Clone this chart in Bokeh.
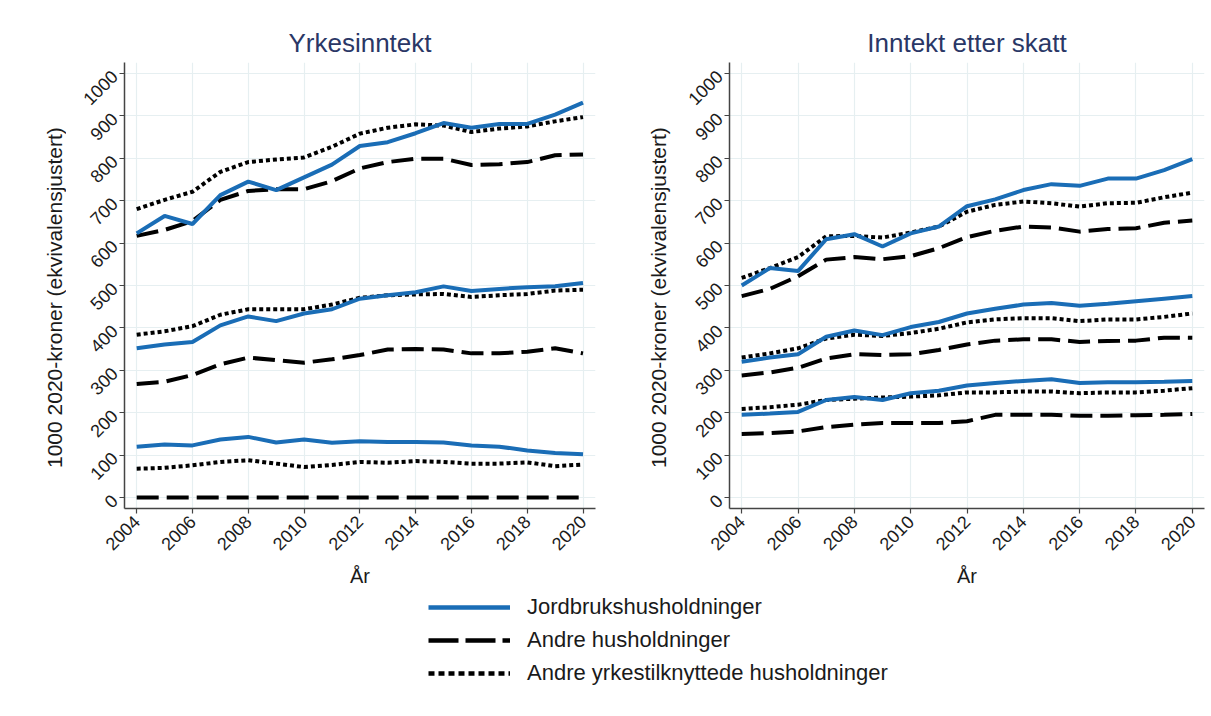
from math import pi
from bokeh.plotting import figure
from bokeh.layouts import column, row
from bokeh.models import Range1d, FixedTicker, Legend, LegendItem, Label
from bokeh.embed import file_html
from bokeh.resources import INLINE

years = list(range(2004, 2021))

# Yrkesinntekt (left panel)
yrk_jord_hi = [623, 664, 645, 713, 745, 725, 755, 785, 829, 838, 859, 883, 872, 881, 881, 903, 931]
yrk_andre_hi = [617, 631, 652, 702, 723, 727, 727, 746, 776, 791, 799, 799, 784, 786, 791, 807, 809]
yrk_yrke_hi = [680, 702, 721, 768, 791, 797, 802, 827, 858, 872, 880, 877, 862, 870, 875, 887, 897]
yrk_jord_mid = [352, 361, 367, 406, 427, 416, 434, 444, 469, 477, 484, 498, 487, 492, 496, 498, 506]
yrk_andre_mid = [268, 273, 289, 314, 330, 324, 318, 326, 336, 349, 350, 349, 340, 340, 344, 352, 340]
yrk_yrke_mid = [384, 392, 404, 431, 444, 444, 444, 455, 471, 477, 479, 480, 473, 477, 480, 488, 490]
yrk_jord_lo = [120, 125, 123, 137, 143, 130, 137, 129, 133, 131, 131, 130, 123, 120, 111, 105, 102]
yrk_andre_lo = [0, 0, 0, 0, 0, 0, 0, 0, 0, 0, 0, 0, 0, 0, 0, 0, 0]
yrk_yrke_lo = [68, 70, 76, 84, 88, 80, 72, 77, 84, 82, 86, 84, 80, 80, 83, 74, 78]

# Inntekt etter skatt (right panel)
ska_jord_hi = [500, 541, 534, 609, 621, 592, 623, 639, 687, 703, 725, 739, 735, 752, 752, 772, 798]
ska_andre_hi = [475, 492, 522, 561, 567, 562, 569, 588, 614, 629, 639, 637, 627, 633, 635, 648, 653]
ska_yrke_hi = [518, 541, 567, 616, 617, 613, 625, 639, 674, 690, 698, 694, 686, 694, 695, 708, 719]
ska_jord_mid = [320, 330, 338, 379, 394, 383, 402, 414, 434, 445, 455, 459, 452, 457, 463, 469, 475]
ska_andre_mid = [288, 295, 306, 328, 338, 336, 338, 348, 361, 370, 373, 373, 367, 369, 370, 377, 377]
ska_yrke_mid = [330, 340, 352, 375, 384, 381, 388, 398, 413, 420, 423, 423, 416, 420, 420, 426, 434]
ska_jord_lo = [195, 198, 202, 230, 237, 230, 246, 252, 264, 270, 275, 279, 270, 272, 272, 273, 275]
ska_andre_lo = [150, 152, 156, 166, 172, 176, 176, 176, 180, 195, 195, 195, 193, 193, 194, 195, 197]
ska_yrke_lo = [209, 213, 219, 230, 233, 236, 238, 241, 248, 248, 250, 250, 246, 248, 248, 252, 258]

titles = ["Yrkesinntekt", "Inntekt etter skatt"]
legend_labels = ["Jordbrukshusholdninger", "Andre husholdninger",
                 "Andre yrkestilknyttede husholdninger"]
y_label = "1000 2020-kroner (ekvivalensjustert)"
x_label = "År"
y_ticks = list(range(0, 1001, 100))
x_ticks = list(range(2004, 2021, 2))

FONT = "Liberation Sans"
BLUE = "#1a6db6"
BLACK = "#000000"
TITLE_C = "#2a3766"
GRID_C = "#e6eff1"
LW = 4
DASH = "22 8"
DOT = "4 3"
PANEL_H = 590


def make_panel(title, jord, andre, yrke, width, x_start, x_end, b_left, b_right):
    p = figure(width=width, height=PANEL_H, output_backend="svg", toolbar_location=None,
               x_range=Range1d(x_start, x_end), y_range=Range1d(-25.8, 1025.8),
               min_border_left=b_left, min_border_right=b_right,
               min_border_top=62, min_border_bottom=79)
    p.title.text = title
    p.title.align = "center"
    p.title.text_font = FONT
    p.title.text_font_size = "26px"
    p.title.text_font_style = "normal"
    p.title.text_color = TITLE_C
    p.title.standoff = 10
    p.outline_line_color = None
    p.background_fill_color = "white"
    p.border_fill_color = "white"

    for ax in (p.xaxis[0], p.yaxis[0]):
        ax.axis_line_color = "#444444"
        ax.axis_line_width = 1.5
        ax.major_tick_line_color = "#444444"
        ax.major_tick_line_width = 1.2
        ax.major_tick_out = 5
        ax.major_tick_in = 0
        ax.minor_tick_line_color = None
        ax.major_label_text_font = FONT
        ax.major_label_text_font_size = "18px"
        ax.major_label_text_color = "#1a1a1a"
        ax.major_label_orientation = pi / 4
    p.xaxis.ticker = FixedTicker(ticks=x_ticks)
    p.yaxis.ticker = FixedTicker(ticks=y_ticks)
    p.xaxis.axis_label = x_label
    p.xaxis.axis_label_text_font = FONT
    p.xaxis.axis_label_text_font_size = "20px"
    p.xaxis.axis_label_text_font_style = "normal"
    p.xaxis.axis_label_text_color = "#1a1a1a"
    p.xaxis.axis_label_standoff = 6
    p.xgrid.ticker = FixedTicker(ticks=x_ticks)
    p.grid.grid_line_color = GRID_C
    p.grid.grid_line_width = 1.2

    for s in andre:
        p.line(years, s, line_color=BLACK, line_width=LW, line_dash=DASH)
    for s in yrke:
        p.line(years, s, line_color=BLACK, line_width=LW, line_dash=DOT)
    for s in jord:
        p.line(years, s, line_color=BLUE, line_width=LW)
    return p


def make_ytitle(width, cx):
    # narrow strip holding the vertical y-axis title (sits a bit below frame centre)
    f = figure(width=width, height=PANEL_H, output_backend="svg", toolbar_location=None,
               x_range=Range1d(0, width), y_range=Range1d(0, PANEL_H), min_border=0)
    f.axis.visible = False
    f.grid.visible = False
    f.outline_line_color = None
    f.add_layout(Label(x=cx, y=PANEL_H - 311, text=y_label, angle=pi / 2,
                       text_align="center", text_baseline="middle",
                       text_font=FONT, text_font_size="21px",
                       text_color="#1a1a1a"))
    return f


t1 = make_ytitle(66, 54)
p1 = make_panel(titles[0],
                [yrk_jord_hi, yrk_jord_mid, yrk_jord_lo],
                [yrk_andre_hi, yrk_andre_mid, yrk_andre_lo],
                [yrk_yrke_hi, yrk_yrke_mid, yrk_yrke_lo],
                547, 2003.563, 2020.448, 58, 18)
t2 = make_ytitle(64, 45)
p2 = make_panel(titles[1],
                [ska_jord_hi, ska_jord_mid, ska_jord_lo],
                [ska_andre_hi, ska_andre_mid, ska_andre_lo],
                [ska_yrke_hi, ska_yrke_mid, ska_yrke_lo],
                534, 2003.567, 2020.433, 52, 7)

p3 = figure(width=1211, height=120, output_backend="svg", toolbar_location=None,
            x_range=Range1d(0, 1), y_range=Range1d(0, 1), min_border=0)
p3.axis.visible = False
p3.grid.visible = False
p3.outline_line_color = None
# off-screen renderers: only their legend keys are visible
r1 = p3.line([-10, -9], [-10, -10], line_color=BLUE, line_width=4.5)
r2 = p3.line([-10, -9], [-10, -10], line_color=BLACK, line_width=4.5, line_dash="30 7")
r3 = p3.line([-10, -9], [-10, -10], line_color=BLACK, line_width=4.5, line_dash="6 4")
leg = Legend(items=[LegendItem(label=legend_labels[0], renderers=[r1]),
                    LegendItem(label=legend_labels[1], renderers=[r2]),
                    LegendItem(label=legend_labels[2], renderers=[r3])],
             location=(428, 24))
leg.glyph_width = 82
leg.glyph_height = 22
leg.label_height = 22
leg.label_standoff = 17
leg.spacing = 7
leg.padding = 0
leg.margin = 0
leg.border_line_color = None
leg.background_fill_alpha = 0
leg.label_text_font = FONT
leg.label_text_font_size = "22px"
leg.label_text_color = "#1a1a1a"
p3.add_layout(leg)

layout = column(row(t1, p1, t2, p2), p3)
open("out.html", "w").write(file_html(layout, INLINE))
